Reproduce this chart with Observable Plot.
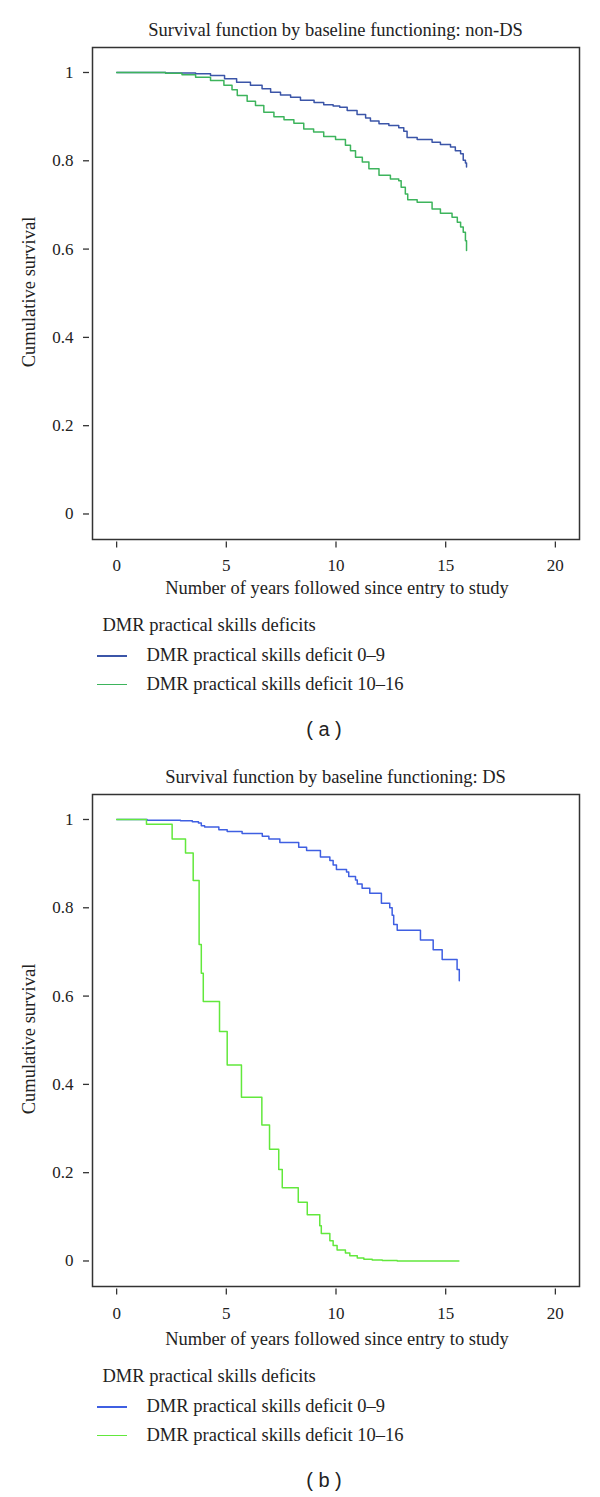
<!DOCTYPE html>
<html><head><meta charset="utf-8">
<script src="https://cdn.jsdelivr.net/npm/d3@7"></script>
<script src="https://cdn.jsdelivr.net/npm/@observablehq/plot@0.6"></script>
<style>
html,body{margin:0;padding:0;background:#fff;}
#page{position:relative;width:600px;height:1497px;overflow:hidden;font-family:"Liberation Serif","Times New Roman",serif;color:#222;}
.t{position:absolute;white-space:nowrap;line-height:1;}
#page svg, #page svg text{font-family:"Liberation Serif","Times New Roman",serif !important;}
#page svg text{font-size:17px;fill:#222;}
</style></head><body><div id="page"></div>
<script>
// ---------- data ----------
const panelTitles = ["Survival function by baseline functioning: non-DS", "Survival function by baseline functioning: DS"];
const panelCaptions = ["( a )", "( b )"];
const seriesLabels = ["DMR practical skills deficit 0\u20139", "DMR practical skills deficit 10\u201316"];
const legendTitle = "DMR practical skills deficits";
const xLabel = "Number of years followed since entry to study";
const yLabel = "Cumulative survival";
const xTicks = [0, 5, 10, 15, 20];
const yTicks = [0, 0.2, 0.4, 0.6, 0.8, 1];

// Panel (a): non-DS
const aLowTime = [0, 2.23, 3.60, 4.28, 4.92, 5.47, 6.10, 6.63, 7.02, 7.47, 7.93, 8.38, 9.00, 9.44, 9.87, 10.17, 10.51, 10.96, 11.35, 11.57, 11.96, 12.41, 12.86, 13.09, 13.24, 13.70, 14.38, 14.76, 15.22, 15.44, 15.68, 15.80, 15.90, 15.95];
const aLowSurv = [1, 0.999, 0.997, 0.993, 0.986, 0.978, 0.971, 0.963, 0.955, 0.949, 0.944, 0.937, 0.932, 0.927, 0.924, 0.921, 0.914, 0.905, 0.897, 0.890, 0.884, 0.880, 0.875, 0.867, 0.853, 0.848, 0.842, 0.837, 0.831, 0.823, 0.816, 0.801, 0.795, 0.786];
const aHighTime = [0, 2.23, 2.98, 3.60, 4.28, 4.89, 5.26, 5.50, 5.95, 6.33, 6.71, 7.17, 7.63, 8.08, 8.53, 8.98, 9.44, 9.98, 10.43, 10.66, 10.89, 11.20, 11.50, 11.96, 12.48, 12.86, 12.97, 13.16, 13.27, 13.70, 14.38, 14.76, 15.29, 15.53, 15.68, 15.80, 15.90, 15.95];
const aHighSurv = [1, 0.998, 0.995, 0.989, 0.982, 0.971, 0.961, 0.948, 0.935, 0.925, 0.910, 0.900, 0.893, 0.885, 0.872, 0.865, 0.855, 0.848, 0.835, 0.823, 0.808, 0.797, 0.782, 0.767, 0.759, 0.755, 0.740, 0.725, 0.712, 0.706, 0.691, 0.681, 0.672, 0.661, 0.650, 0.638, 0.619, 0.597];

// Panel (b): DS
const bLowTime = [0, 1.39, 2.91, 3.45, 3.73, 3.86, 4.01, 4.66, 5.04, 5.72, 6.64, 6.94, 7.44, 8.30, 8.66, 9.29, 9.72, 9.87, 10.02, 10.48, 10.58, 10.89, 10.97, 11.19, 11.54, 12.07, 12.45, 12.56, 12.63, 12.79, 13.85, 14.43, 14.84, 15.52, 15.62];
const bLowSurv = [1, 0.998, 0.997, 0.995, 0.992, 0.986, 0.983, 0.977, 0.973, 0.968, 0.962, 0.956, 0.948, 0.937, 0.930, 0.915, 0.907, 0.897, 0.887, 0.881, 0.871, 0.863, 0.854, 0.844, 0.833, 0.810, 0.800, 0.783, 0.762, 0.749, 0.727, 0.705, 0.683, 0.660, 0.635];
const bHighTime = [0, 1.36, 2.53, 3.14, 3.49, 3.76, 3.86, 3.95, 4.69, 5.04, 5.69, 6.62, 6.97, 7.39, 7.55, 8.28, 8.69, 9.26, 9.33, 9.72, 9.87, 10.05, 10.43, 10.63, 10.97, 11.27, 11.65, 12.11, 12.79, 15.60];
const bHighSurv = [1, 0.989, 0.956, 0.924, 0.862, 0.717, 0.652, 0.588, 0.520, 0.444, 0.371, 0.308, 0.253, 0.207, 0.166, 0.133, 0.105, 0.080, 0.062, 0.046, 0.035, 0.025, 0.018, 0.012, 0.007, 0.004, 0.002, 0.001, 0, 0];

const colorsA = ["#3b55a8", "#3db45c"];
const colorsB = ["#3f5fe2", "#62e83c"];

// ---------- helpers ----------
const page = document.getElementById("page");
const SERIF = '"Liberation Serif","Times New Roman",serif';
const SANS = '"Liberation Sans",Arial,sans-serif';
function text(str, x, baseline, size, anchor, family) {
  const d = document.createElement("div");
  d.className = "t";
  d.textContent = str;
  d.style.fontFamily = family || SERIF;
  d.style.fontSize = size + "px";
  const asc = family === SANS ? 0.8465 : 0.8375;
  d.style.top = (baseline - asc * size) + "px";
  d.style.left = x + "px";
  if (anchor === "middle") d.style.transform = "translateX(-50%)";
  page.appendChild(d);
  return d;
}
function rows(times, surv, g) {
  return times.map((t, i) => ({t, s: surv[i], g}));
}

function drawPanel(fo, to, title, caption, series, colors, tickPad) {
  text(title, 335.5, fo + 36, 18.5, "middle");
  const data = series.flat();
  const svg = Plot.plot({
    width: 600, height: 600,
    marginLeft: 92, marginRight: 21, marginTop: 47, marginBottom: 61,
    style: {fontSize: "17px", color: "#222", background: "transparent", overflow: "visible"},
    x: {domain: [-1.1, 21.1]},
    y: {domain: [-0.0578, 1.0566]},
    color: {domain: seriesLabels, range: colors},
    marks: [
      Plot.axisX({ticks: xTicks, tickSize: 6, tickPadding: tickPad, dy: 2.5, label: null, stroke: "#333", strokeWidth: 1.3}),
      Plot.axisY({ticks: yTicks, tickSize: 6, tickPadding: 10, dx: -3, label: null, stroke: "#333", strokeWidth: 1.3, tickFormat: d => String(d)}),
      Plot.frame({stroke: "#333", strokeWidth: 1.5}),
      Plot.line(data, {x: "t", y: "s", z: "g", stroke: "g", curve: "step-after", strokeWidth: 1.5})
    ]
  });
  svg.style.position = "absolute";
  svg.style.left = "0px";
  svg.style.top = fo + "px";
  page.appendChild(svg);
  const yl = document.createElement("div");
  yl.className = "t";
  yl.textContent = yLabel;
  yl.style.fontFamily = SERIF;
  yl.style.fontSize = "18.5px";
  yl.style.left = "29px";
  yl.style.top = (fo + 292) + "px";
  yl.style.transform = "translate(-50%,-50%) rotate(-90deg)";
  page.appendChild(yl);
  text(xLabel, 337, to + 594, 18.5, "middle");
  text(legendTitle, 102.5, to + 631.7, 18.5);
  seriesLabels.forEach((lab, i) => {
    const ly = to + 656 + i * 28.5;
    const ln = document.createElement("div");
    ln.style.position = "absolute";
    ln.style.left = "97px";
    ln.style.width = "30px";
    ln.style.top = (ly - 0.75) + "px";
    ln.style.height = "1.5px";
    ln.style.background = colors[i];
    page.appendChild(ln);
    text(lab, 146.5, to + 661.7 + i * 28.5, 18.5);
  });
  text(caption, 324, to + 736, 20, "middle", SANS);
}

drawPanel(0, 0, panelTitles[0], panelCaptions[0],
  [rows(aLowTime, aLowSurv, seriesLabels[0]), rows(aHighTime, aHighSurv, seriesLabels[1])], colorsA, 11);
drawPanel(747, 751, panelTitles[1], panelCaptions[1],
  [rows(bLowTime, bLowSurv, seriesLabels[0]), rows(bHighTime, bHighSurv, seriesLabels[1])], colorsB, 12);
</script>
</body></html>
